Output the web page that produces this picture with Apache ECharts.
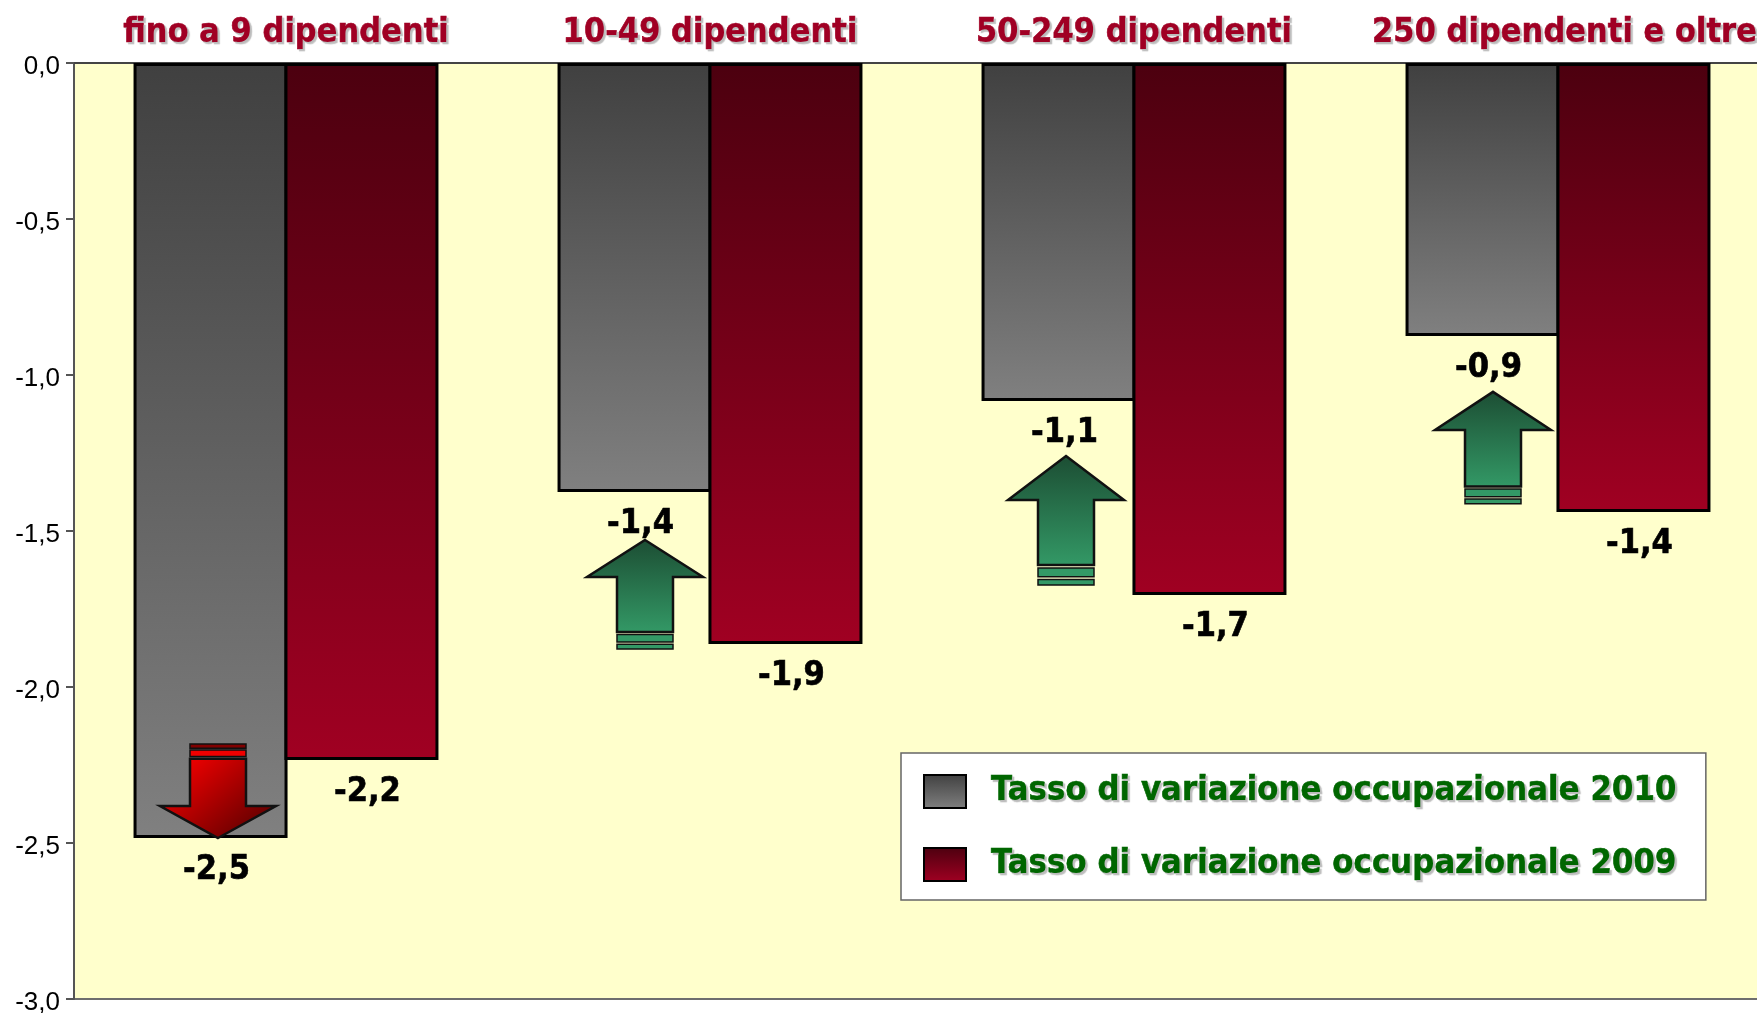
<!DOCTYPE html>
<html>
<head>
<meta charset="utf-8">
<title>Tasso di variazione occupazionale</title>
<style>
  html, body { margin: 0; padding: 0; background: #fff; }
  #chart { width: 1757px; height: 1013px; }
</style>
<script src="https://cdn.jsdelivr.net/npm/echarts@6/dist/echarts.min.js"></script>
</head>
<body>
<div id="chart"></div>
<script>
var categories = ['fino a 9 dipendenti', '10-49 dipendenti', '50-249 dipendenti', '250 dipendenti e oltre'];
var values2010 = [-2.484, -1.375, -1.083, -0.875];
var values2009 = [-2.234, -1.862, -1.705, -1.439];
var arrowTips = [-2.484, -1.529, -1.26, -1.054];
var arrowTails = [-2.183, -1.878, -1.673, -1.413];
var name2010 = 'Tasso di variazione occupazionale 2010';
var name2009 = 'Tasso di variazione occupazionale 2009';

var titleFont = 'DejaVu Sans Condensed';

function comma(v) {
  return v.toFixed(1).replace('.', ',');
}

function vGradient(top, bottom) {
  return new echarts.graphic.LinearGradient(0, 0, 0, 1, [
    { offset: 0, color: top },
    { offset: 1, color: bottom }
  ]);
}

function barSeries(name, values, top, bottom) {
  return {
    name: name,
    type: 'bar',
    data: values,
    barWidth: 154,
    barGap: '-2%',
    itemStyle: {
      color: vGradient(top, bottom),
      borderColor: '#000',
      borderWidth: 3
    },
    label: {
      show: true,
      position: 'bottom',
      distance: 15,
      offset: [6, 0],
      fontFamily: titleFont,
      fontWeight: 'bold',
      fontSize: 34,
      color: '#000',
      textBorderColor: '#000',
      textBorderWidth: 0.6,
      formatter: function (p) { return comma(p.value); }
    }
  };
}

// arrow between the two bars, proportions taken from the tip-tail length
function renderArrow(params, api) {
  var cat = api.value(0);
  var tip = api.coord([cat, api.value(1)]);
  var tail = api.coord([cat, api.value(2)]);
  var cx = tip[0] + (cat === 1 || cat === 3 ? -65 : -68);
  var len = tail[1] - tip[1];
  var down = len < 0;
  var y = function (f) { return tip[1] + len * f; };
  var fill = down
    ? new echarts.graphic.LinearGradient(0.2, 0, 0.8, 1, [
        { offset: 0, color: '#f50000' },
        { offset: 1, color: '#5c0000' }
      ])
    : vGradient('#1c4d33', '#339966');
  var arrow = [
    [cx, y(0)], [cx + 58, y(0.34)], [cx + 28, y(0.34)], [cx + 28, y(0.845)],
    [cx - 28, y(0.845)], [cx - 28, y(0.34)], [cx - 58, y(0.34)]
  ];
  function stripe(a, b, color) {
    var t = Math.min(y(a), y(b));
    return {
      type: 'rect',
      shape: { x: cx - 28, y: t, width: 56, height: Math.abs(y(b) - y(a)) },
      style: { fill: color, stroke: '#111', lineWidth: 1.5 }
    };
  }
  return {
    type: 'group',
    children: [
      { type: 'polygon', shape: { points: arrow }, style: { fill: fill, stroke: '#111', lineWidth: 2.5 } },
      stripe(0.868, 0.936, down ? '#f00000' : '#339966'),
      stripe(0.957, 1, down ? '#800000' : '#339966')
    ]
  };
}

var arrowData = [];
categories.forEach(function (c, i) {
  arrowData.push([i, arrowTips[i], arrowTails[i]]);
});

// the last heading sits a little right of its category centre in the original
var axisCategories = categories.map(function (c, i) {
  return i === 3 ? { value: c, textStyle: { padding: [0, 0, 0, 13] } } : c;
});

var chart = echarts.init(document.getElementById('chart'), null, { renderer: 'canvas' });
chart.setOption({
  animation: false,
  backgroundColor: '#fff',
  grid: {
    show: true,
    left: 74,
    top: 63,
    width: 1696,
    height: 936,
    outerBoundsMode: 'none',
    backgroundColor: '#ffffcc',
    borderColor: '#6e6e6e',
    borderWidth: 2
  },
  legend: {
    orient: 'vertical',
    left: 901,
    top: 753,
    data: [name2010, name2009],
    icon: 'rect',
    backgroundColor: '#fff',
    borderColor: '#666',
    borderWidth: 1.5,
    padding: [21, 29, 18, 22],
    itemWidth: 42,
    itemHeight: 33,
    itemGap: 38,
    selectedMode: false,
    textStyle: {
      fontFamily: titleFont,
      fontWeight: 'bold',
      fontSize: 34.4,
      color: '#006600',
      padding: [0, 0, 0, 20],
      textBorderColor: '#006600',
      textBorderWidth: 0.6,
      textShadowColor: '#bbb',
      textShadowBlur: 1,
      textShadowOffsetX: 2,
      textShadowOffsetY: 2
    }
  },
  xAxis: {
    type: 'category',
    position: 'top',
    data: axisCategories,
    axisLine: { lineStyle: { color: '#444', width: 2 } },
    axisTick: { inside: true, length: 7, lineStyle: { color: '#333', width: 1 } },
    axisLabel: {
      interval: 0,
      margin: 13,
      hideOverlap: false,
      fontFamily: titleFont,
      fontWeight: 'bold',
      fontSize: 34,
      color: '#a00024',
      textBorderColor: '#a00024',
      textBorderWidth: 0.6,
      textShadowColor: '#bbb',
      textShadowBlur: 1,
      textShadowOffsetX: 2,
      textShadowOffsetY: 2
    }
  },
  yAxis: {
    type: 'value',
    min: -3,
    max: 0,
    interval: 0.5,
    splitLine: { show: false },
    axisLine: { show: true, onZero: false, lineStyle: { color: '#555', width: 2 } },
    axisTick: { show: true, length: 8, lineStyle: { color: '#555', width: 2 } },
    axisLabel: {
      margin: 14,
      verticalAlign: 'top',
      lineHeight: 8,
      fontFamily: 'Liberation Sans',
      fontSize: 26,
      color: '#000',
      formatter: function (v) { return comma(v); }
    }
  },
  series: [
    barSeries(name2010, values2010, '#404040', '#808080'),
    barSeries(name2009, values2009, '#4c000f', '#a00022'),
    {
      name: 'frecce',
      type: 'custom',
      renderItem: renderArrow,
      data: arrowData,
      encode: { x: 0, y: 1 },
      clip: false,
      z: 5,
      silent: true
    }
  ]
});
</script>
</body>
</html>
